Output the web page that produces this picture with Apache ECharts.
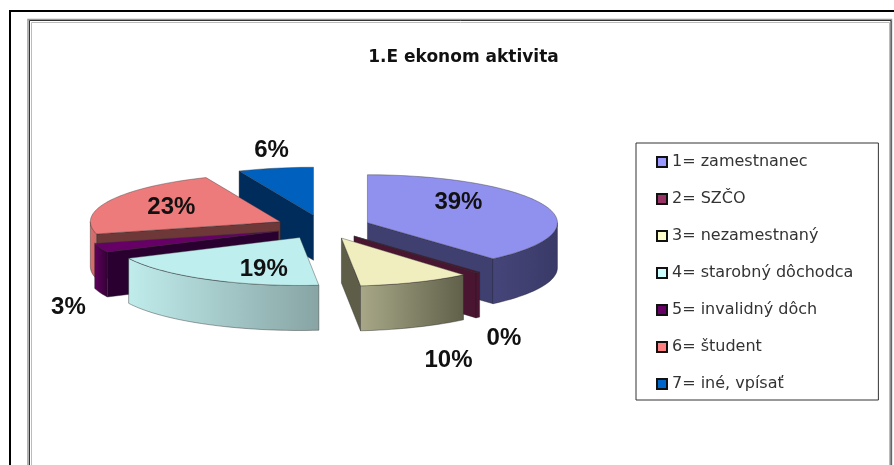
<!DOCTYPE html>
<html><head><meta charset="utf-8">
<style>html,body{margin:0;padding:0;background:#fff}#c{width:894px;height:465px}</style>
<script src="https://cdn.jsdelivr.net/npm/echarts@6/dist/echarts.min.js"></script>
</head><body><div id="c"></div>
<script>
var categories = ['1= zamestnanec','2= SZČO','3= nezamestnaný','4= starobný dôchodca','5= invalidný dôch','6= študent','7= iné, vpísať'];
var values = [38.5, 0.4, 9.5, 19.45, 3.05, 22.7, 6.4];
var title = '1.E ekonom aktivita';
var legendColors = ['#9999FF','#993366','#FFFFCC','#CCFFFF','#660066','#FF8080','#0066CC'];
var topColors = ['#9090EE','#4A1530','#F0EEBE','#BEEEEE','#660066','#EE7B7B','#0060BE'];
var wallColors = ['#3F3F70','#4A1530','#5E5E48','#8AA6A6','#2A0030','#6E3838','#002C5C'];
var arcColors = [['#45457A','#3A3A68'],['#4A1530','#4A1530'],['#A8A888','#60604A'],['#C0ECEC','#88A4A4'],['#600060','#340034'],['#D87070','#D06868'],['#002C5C','#002C5C']];
var labelOffsets = [[91,-20],[150,102],[107,122],[-36,32],[-210,76],[-109,-14],[-42,-65]];
var drawOrder = [6,5,4,3,0,1,2];

var CX = 323, CY = 227, RX = 190, RY = 48, DEPTH = 45, EXPLODE = 0.25;
var total = values.reduce(function(a,b){return a+b;},0);
var starts = [], acc = 0;
values.forEach(function(v){ starts.push(acc/total*360); acc += v; });
function rad(d){ return d*Math.PI/180; }
function renderSlice(i){
  return function(params, api){
    var v = api.value(0);
    var a0 = starts[i], a1 = a0 + v/total*360, mid = (a0+a1)/2;
    var ax = CX + EXPLODE*RX*Math.sin(rad(mid)), ay = CY - EXPLODE*RY*Math.cos(rad(mid));
    function pt(a,dz){ return [ax+RX*Math.sin(rad(a)), ay-RY*Math.cos(rad(a))+(dz||0)]; }
    function arc(s,e,dz){ var n=Math.max(2,Math.ceil((e-s)/2)),o=[]; for(var k=0;k<=n;k++) o.push(pt(s+(e-s)*k/n,dz)); return o; }
    var ch = [];
    function wall(a){
      ch.push({type:'polygon',shape:{points:[[ax,ay],pt(a),pt(a,DEPTH),[ax,ay+DEPTH]]},style:{fill:wallColors[i],stroke:'#222',lineWidth:0.4}});
    }
    if (Math.cos(rad(a0-90))<-1e-6) wall(a0);
    if (Math.cos(rad(a1+90))<-1e-6) wall(a1);
    var s=Math.max(a0,90), e=Math.min(a1,270);
    if (e>s){
      ch.push({type:'polygon',shape:{points:arc(s,e,0).concat(arc(s,e,DEPTH).reverse())},
        style:{fill:{type:'linear',x:0,y:0,x2:1,y2:0,colorStops:[{offset:0,color:arcColors[i][0]},{offset:1,color:arcColors[i][1]}]},stroke:'#222',lineWidth:0.4}});
    }
    ch.push({type:'polygon',shape:{points:[[ax,ay]].concat(arc(a0,a1,0))},style:{fill:topColors[i],stroke:'#333',lineWidth:0.4}});
    ch.push({type:'text',z2:50,style:{text:Math.round(v)+'%',x:ax+labelOffsets[i][0],y:ay+labelOffsets[i][1],align:'center',verticalAlign:'middle',
      fill:'#111',font:'bold 24px "Liberation Sans"'}});
    return {type:'group',children:ch};
  };
}
var series = drawOrder.map(function(i){
  return {type:'custom',name:categories[i],coordinateSystem:'none',silent:true,animation:false,
    itemStyle:{color:legendColors[i]},data:[[values[i]]],renderItem:renderSlice(i)};
});
var chart = echarts.init(document.getElementById('c'),null,{renderer:'canvas'});
chart.setOption({
  animation:false,
  backgroundColor:'#fff',
  title:{text:title,left:458.5,top:44,textAlign:'center',textStyle:{fontFamily:'DejaVu Sans',fontWeight:'bold',fontSize:17,color:'#111'}},
  legend:{data:categories,orient:'vertical',left:636,top:143,selectedMode:false,icon:'rect',itemWidth:10,itemHeight:10,itemGap:19,
    padding:[10,25,7,20],borderColor:'#333',borderWidth:1,backgroundColor:'#fff',
    itemStyle:{borderColor:'#111',borderWidth:2},
    textStyle:{fontFamily:'DejaVu Sans',fontSize:16,color:'#333',height:18,lineHeight:18}},
  graphic:[
    {type:'rect',shape:{x:10,y:11,width:900,height:470},style:{fill:'none',stroke:'#000',lineWidth:2},z:-2},
    {type:'rect',shape:{x:28,y:19.5,width:863.5,height:470},style:{fill:'none',stroke:'#999',lineWidth:1.5},z:-2},
    {type:'rect',shape:{x:29.5,y:20.5,width:861.5,height:470},style:{fill:'none',stroke:'#333',lineWidth:1},z:-2},
    {type:'rect',shape:{x:31.5,y:22.5,width:858,height:470},style:{fill:'none',stroke:'#bbb',lineWidth:1},z:-2}
  ],
  series:series
});
</script></body></html>
